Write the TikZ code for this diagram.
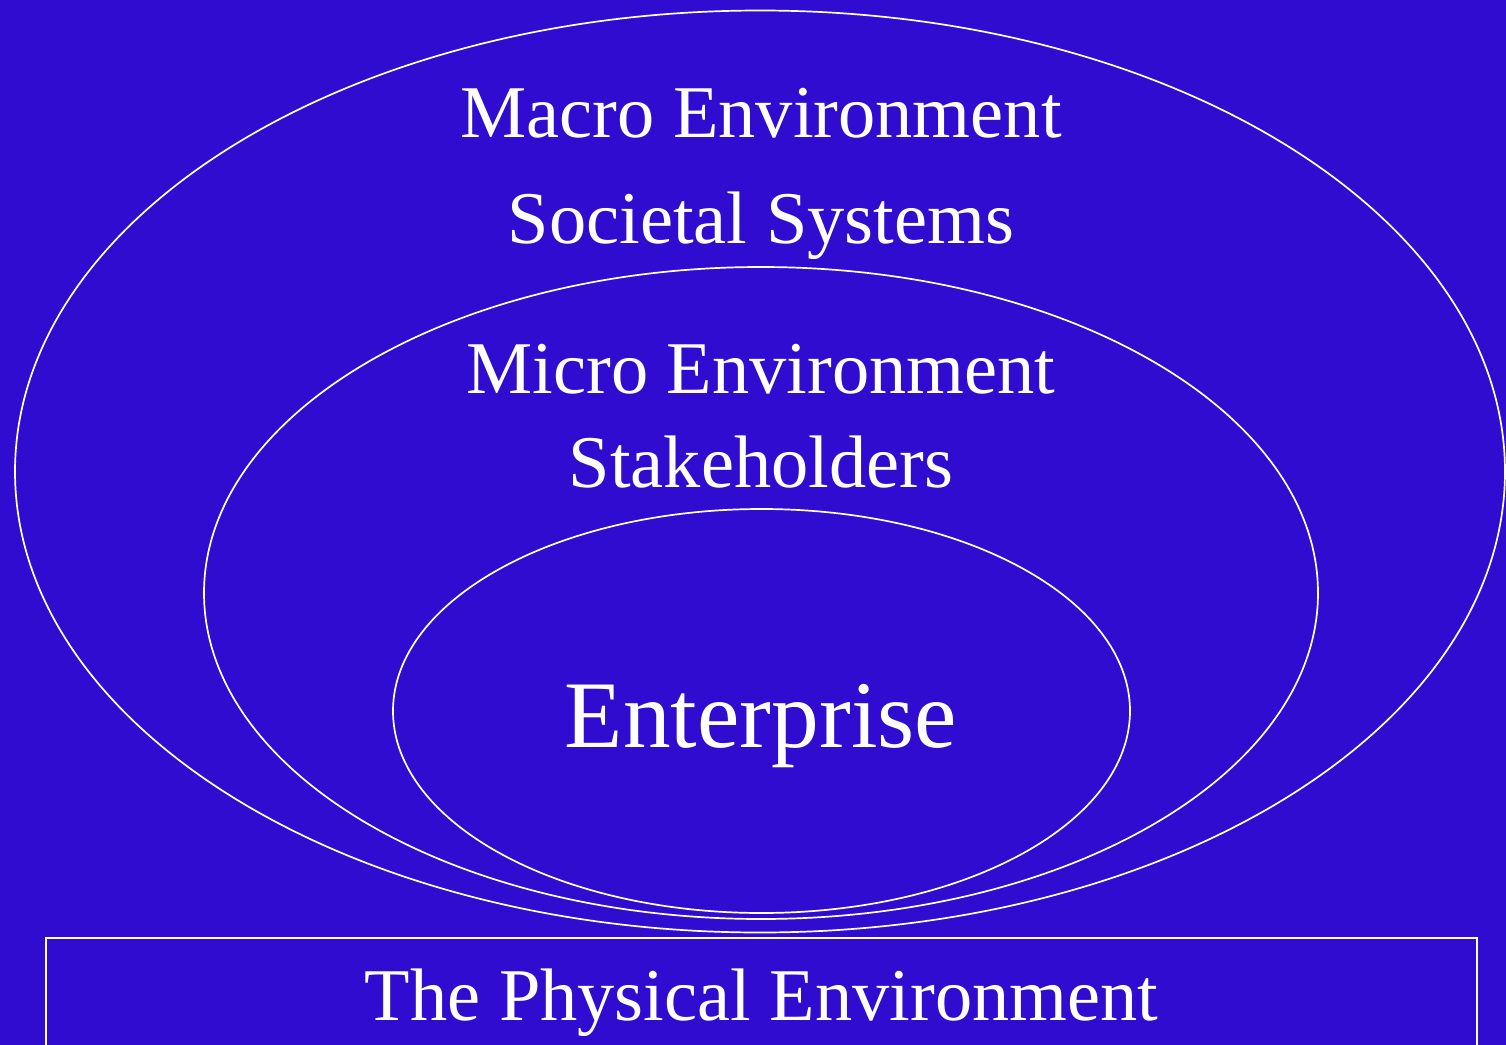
\documentclass[tikz,border=0pt]{standalone}
\usepackage{fontspec}
\setmainfont{Liberation Serif}
\definecolor{bgblue}{RGB}{48,11,208}
\begin{document}
\begin{tikzpicture}[x=0.5pt,y=-0.5pt,
  ring/.style={draw=white,line width=0.85pt},
  lbl/.style={text=white,anchor=base,inner sep=0pt,font=\fontsize{37.2}{40}\selectfont},
  biglbl/.style={text=white,anchor=base,inner sep=0pt,font=\fontsize{47.7}{52}\selectfont}]
\fill[bgblue] (0,0) rectangle (1506,1045);
\useasboundingbox (0,0) rectangle (1506,1045);
\clip (0,0) rectangle (1506,1045);
% ellipses
\draw[ring] (760,471.5) ellipse [x radius=745, y radius=461];
\draw[ring] (761,593) ellipse [x radius=557, y radius=326];
\draw[ring] (761.5,711) ellipse [x radius=368.5, y radius=202];
% physical environment box
\draw[draw=white,line width=1pt] (46,938) rectangle (1477,1060);
% labels
\node[lbl] (macro) at (761,137) {Macro Environment};
\node[lbl] (soc) at (761,243) {Societal Systems};
\node[lbl] (micro) at (761,393) {Micro Environment};
\node[lbl] (stake) at (761,487) {Stakeholders};
\node[biglbl] (ent) at (761,747) {Enterprise};
\node[lbl] (phys) at (761.5,1020) {The Physical Environment};
\end{tikzpicture}
\end{document}
